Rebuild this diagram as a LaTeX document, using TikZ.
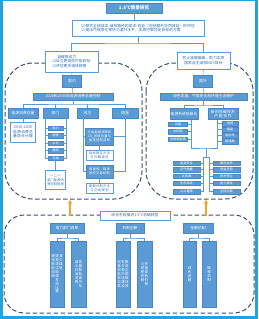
\documentclass[tikz,border=0pt]{standalone}
\usepackage{fontspec}
\setmainfont{Noto Sans CJK SC}
\newfontfamily\sym{DejaVu Sans}
\usetikzlibrary{arrows.meta}
\XeTeXlinebreaklocale "zh"
\XeTeXlinebreakskip = 0pt plus 1pt
\definecolor{boxblue}{HTML}{5B9BD5}
\definecolor{boxedge}{HTML}{4A86C0}
\definecolor{txtblue}{HTML}{2F6CB0}
\definecolor{dashgray}{HTML}{3E4F6A}
\definecolor{liftorange}{HTML}{F2A22E}
\definecolor{framecyan}{HTML}{23A3DA}
\newcommand{\chk}{{\sym ☑}}
\newcommand{\vcol}[1]{\parbox[t]{1.1em}{\centering #1}}

\begin{document}
\begin{tikzpicture}[x=1pt,y=-1pt,>={Stealth[length=4pt,width=4.5pt]},
  font=\fontsize{3.8}{4.6}\selectfont,
  hbox/.style={draw=boxedge,line width=0.3pt,fill=boxblue,text=white,align=center,inner sep=0.5pt},
  wbox/.style={draw=boxblue,line width=0.5pt,fill=white,text=txtblue,align=center,inner sep=0.8pt},
  chip/.style={hbox,minimum height=4.5,font=\fontsize{3.2}{3.6}\selectfont},
  tall/.style={hbox,minimum height=66,font=\fontsize{3.5}{3.9}\selectfont},
  link/.style={draw=boxblue,line width=0.5pt},
  region/.style={draw=dashgray,line width=1pt,dash pattern=on 4.5pt off 2.5pt},
  lift/.style={->,draw=liftorange,line width=1.5pt}]
\useasboundingbox (0,0) rectangle (258,319);
\fill[framecyan] (0,0) rectangle (258,319);
\fill[white] (3,1) rectangle (255,316);

% dashed areas
\draw[region,rounded corners=28] (5,63) rectangle (142,199);
\draw[region,rounded corners=28] (146,63) rectangle (253,199);
\draw[region,rounded corners=20] (4,215) rectangle (254,313);

% top
\node[hbox,minimum width=56,minimum height=10,font=\fontsize{4.6}{5}\selectfont\bfseries] (title) at (134,8) {1.5℃情景研究};
\node[wbox,minimum width=132,minimum height=16,align=left] (goal) at (138,28)
  {\chk\ 研究全球成本-减排路径的成本-收益（包括额外协同效益）的评估\\\chk\ 提出气候变化预估与温升水平，实现巴黎协定目标的方案};
\node[wbox,minimum width=53,minimum height=21,align=left] (drv) at (71.5,61.5)
  {\quad\ 减缓驱动力\\\chk 设立更高的产能目标\\\chk 评估更多减排政策};
\node[wbox,minimum width=53,minimum height=17] (ndc) at (203.5,60.5) {防止减缓偏离，助力实现\\国家自主减排NDC目标};
\coordinate (jg) at (138,43);
\draw[link] (title.south) -- (title.south |- goal.north);
\draw[link] (goal) -- (jg); \draw[link] (drv.north) |- (jg) -| (ndc.north);

% domestic
\node[hbox,minimum width=19,minimum height=12] (dom) at (72,81) {国内};
\node[hbox,minimum width=80,minimum height=7] (tot) at (73,96.5) {2020和2035年能源消费总量控制};
\draw[link] (drv) -- (dom); \draw[link] (dom) -- (tot);
\node[hbox,minimum width=30,minimum height=10] (tgt) at (23,113) {能源消费总量};
\node[hbox,minimum width=25,minimum height=10] (sect) at (55.5,113) {部门};
\node[hbox,minimum width=21,minimum height=10] (prov) at (87.5,113) {地方};
\node[hbox,minimum width=26,minimum height=10] (meas) at (125,113) {措施};
\coordinate (jt) at (73,104);
\draw[link] (tot) -- (jt); \draw[link] (tgt.north) |- (jt) -| (meas.north);
\draw[link] (sect.north) -- (sect.north |- jt); \draw[link] (prov.north) -- (prov.north |- jt);
\node[wbox,minimum width=25,minimum height=20,text width=23] (tgtn) at (23,132) {2015-2030\\能源消费总量增长分解};
\draw[link] (tgt) -- (tgtn);
\node[chip,minimum width=15] (s1) at (55.5,128) {电力};
\node[chip,minimum width=15] (s2) at (55.5,135.5) {钢铁};
\node[chip,minimum width=15] (s3) at (55.5,143) {水泥};
\node[chip,minimum width=15] (s4) at (55.5,150.5) {建筑};
\node[chip,minimum width=15] (s5) at (55.5,158) {交通};
\coordinate (sl) at (45,118); \coordinate (sr) at (66,118);
\foreach \s in {s1,s2,s3,s4,s5} {\draw[link] (\s.west) -| (sl); \draw[link] (\s.east) -| (sr);}
\node[wbox,minimum width=20,minimum height=19,text width=18,font=\fontsize{3.2}{3.8}\selectfont] (sectn) at (55.5,180) {“一二一”部门能源消费控制措施};
\draw[link] (s5) -- (sectn);
\node[hbox,minimum width=28,minimum height=17,text width=26,font=\fontsize{3.2}{3.8}\selectfont] (m1) at (99.5,136.5) {分省能源消费和CO\textsubscript{2}排放总量与强度控制目标};
\node[wbox,minimum width=27,minimum height=10,text width=25,font=\fontsize{3.2}{3.8}\selectfont] (m1n) at (99.5,155) {目标制定方法与分解途径};
\node[hbox,minimum width=27,minimum height=13,text width=25,font=\fontsize{3.2}{3.8}\selectfont] (m2) at (99.5,171.5) {用能权、碳排放权交易机制};
\node[wbox,minimum width=27,minimum height=10,text width=25,font=\fontsize{3.2}{3.8}\selectfont] (m2n) at (99.5,188) {配额分配方法与交易规则};
\coordinate (ml) at (83,118); \coordinate (mr) at (125,118);
\draw[link] (m1.west) -| (ml); \draw[link] (m2.west) -| (ml);
\draw[link] (m1.east) -| (mr); \draw[link] (m2.east) -| (mr);
\draw[link] (m1) -- (m1n); \draw[link] (m2) -- (m2n);

% abroad
\node[hbox,minimum width=19,minimum height=12] (frn) at (203,81.5) {国外};
\node[hbox,minimum width=87,minimum height=7] (grn) at (203.5,96.5) {绿色发展、气候变化和环境生态保护};
\draw[link] (ndc) -- (frn); \draw[link] (frn) -- (grn);
\node[hbox,minimum width=28,minimum height=11] (low) at (184,114) {能源系统低碳化};
\node[hbox,minimum width=30,minimum height=11,text width=28] (coop) at (223,114) {新的低碳技术\\产能合作};
\coordinate (jr) at (203.5,105);
\draw[link] (grn) -- (jr); \draw[link] (low.north) |- (jr) -| (coop.north);
\node[chip,minimum width=19] (t1) at (178,124) {风能};
\node[chip,minimum width=19] (t2) at (178,131.5) {太阳能};
\node[chip,minimum width=19] (t3) at (178,139) {生物质能源};
\node[chip,minimum width=16] (u1) at (230,123.5) {电网};
\node[chip,minimum width=16] (u2) at (230,129.5) {储能};
\node[chip,minimum width=16] (u3) at (230,135.5) {电动车};
\node[chip,minimum width=16] (u4) at (230,141.5) {碳捕集};
\coordinate (rb1) at (191,119.5); \coordinate (rb2) at (217,119.5);
\foreach \t in {t1,t2,t3} {\draw[link] (\t.east) -| (rb1);}
\foreach \u in {u1,u2,u3,u4} {\draw[link] (\u.west) -| (rb2);}
\coordinate (jm) at (206,148); \coordinate (jn) at (206,157);
\draw[link] (rb1) |- (jm) -| (rb2); \draw[link] (jm) -- (jn);
\node[chip,minimum width=27] (c1) at (186.5,163) {能源安全};
\node[chip,minimum width=27] (c2) at (186.5,169.5) {空气质量};
\node[chip,minimum width=27] (c3) at (186.5,176) {水资源};
\node[chip,minimum width=27] (c4) at (186.5,183) {生态系统};
\node[chip,minimum width=27] (c5) at (186.5,191.5) {公众健康};
\node[chip,minimum width=27] (d1) at (226.5,163) {国际合作};
\node[chip,minimum width=27] (d2) at (226.5,169.5) {资金支持};
\node[chip,minimum width=27] (d3) at (226.5,176) {技术转让};
\node[chip,minimum width=27] (d4) at (226.5,183) {能力建设};
\node[chip,minimum width=27] (d5) at (226.5,191.5) {全球治理};
\coordinate (cl) at (203,157); \coordinate (cr) at (209,157);
\draw[link] (cl) -- (cr);
\foreach \c in {c1,c2,c3,c4,c5} {\draw[link] (\c.east) -| (cl);}
\foreach \d in {d1,d2,d3,d4,d5} {\draw[link] (\d.west) -| (cr);}

% bottom
\coordinate (a1s) at (70,216); \coordinate (a1e) at (70,200);
\coordinate (a2s) at (206,216); \coordinate (a2e) at (206,200);
\draw[lift] (a1s) -- (a1e); \draw[lift] (a2s) -- (a2e);
\node[wbox,minimum width=70,minimum height=9] (syn) at (135,215.5) {综合手段推进1.5℃低碳转型};
\node[hbox,minimum width=34,minimum height=10] (pw) at (67,228) {电力部门改革};
\node[hbox,minimum width=28,minimum height=10] (mech) at (130,228) {机制创新};
\node[hbox,minimum width=30,minimum height=10] (fin) at (198,228) {金融机制};
\node[tall,minimum width=14] (pw1) at (57,274) {\vcol{建设智能电网}\vcol{提高清洁能源发电比重}\vcol{减少煤电}};
\node[tall,minimum width=15] (pw2) at (78.5,274) {\vcol{减少石油消费}\vcol{发展新能源汽车}};
\node[tall,minimum width=14] (mech1) at (123,274) {\vcol{完善用能权交易}\vcol{权交易市场建设}\vcol{推进全国碳排放}};
\node[tall,minimum width=15] (mech2) at (144.5,274) {\vcol{与财税机制}\vcol{完善绿色价格}};
\node[tall,minimum width=13] (fin1) at (189.5,274) {\vcol{绿色金融}};
\node[tall,minimum width=14] (fin2) at (209,274) {\vcol{碳税机制}};
\coordinate (q1) at (67,238); \coordinate (q2) at (130,238); \coordinate (q3) at (198,238);
\draw[link] (pw) -- (q1); \draw[link] (pw1.north) |- (q1) -| (pw2.north);
\draw[link] (mech) -- (q2); \draw[link] (mech1.north) |- (q2) -| (mech2.north);
\draw[link] (fin) -- (q3); \draw[link] (fin1.north) |- (q3) -| (fin2.north);
\end{tikzpicture}
\end{document}
